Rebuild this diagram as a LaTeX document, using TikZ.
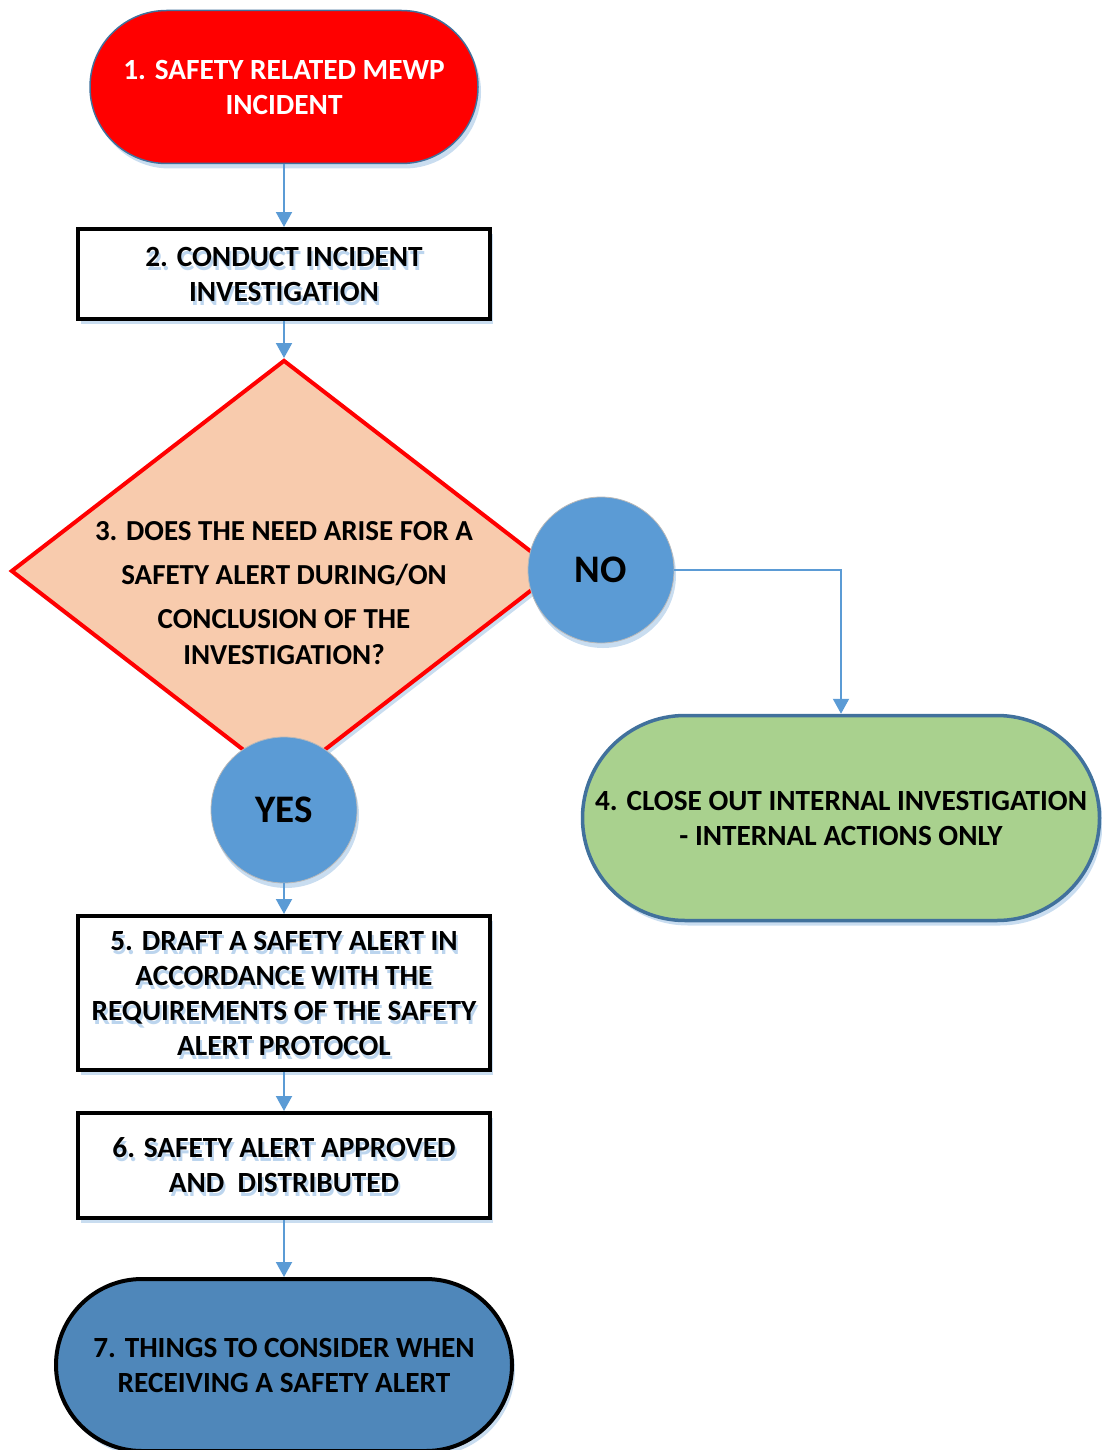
\documentclass[tikz,border=0pt]{standalone}
\usepackage{fontspec}
\setmainfont{Carlito}
\usetikzlibrary{shapes.geometric,shapes.misc,arrows.meta,shadows}
\definecolor{arrowblue}{HTML}{5B9BD5}
\definecolor{edgeblue}{HTML}{41719C}
\definecolor{peach}{HTML}{F8CBAD}
\definecolor{leaf}{HTML}{A9D18E}
\definecolor{steel}{HTML}{4F87BA}
\definecolor{shade}{HTML}{C9DDF0}
\definecolor{ghostblue}{HTML}{BCD5EE}
\newcommand\mainfs{\bfseries\fontsize{29.3}{35}\selectfont}
\tikzset{
  base/.style={font=\mainfs, align=center, inner sep=0pt,
    drop shadow={shadow xshift=3pt, shadow yshift=-5pt, fill=shade, opacity=1}},
  stadium/.style={base, rounded rectangle, rounded rectangle arc length=180},
  procbox/.style={base, rectangle, draw=black, line width=4pt, fill=white, minimum width=412pt,
    path picture={\node[font=\mainfs, align=center, inner sep=0pt, text=ghostblue]
      at ([xshift=2pt,yshift=-4pt]path picture bounding box.center) {#1};}},
  answer/.style={circle, fill=arrowblue, draw=gray!55, line width=0.8pt, minimum size=146pt, inner sep=0pt,
    font=\bfseries\fontsize{39}{42}\selectfont,
    drop shadow={shadow xshift=2pt, shadow yshift=-5pt, fill=shade, opacity=1}},
  flow/.style={draw=arrowblue, line width=2pt, -{Triangle[width=16pt,length=15pt]}},
}
\newcommand\txttwo{2. CONDUCT INCIDENT\\ INVESTIGATION}
\newcommand\txtfive{5. DRAFT A SAFETY ALERT IN\\ ACCORDANCE WITH THE\\ REQUIREMENTS OF THE SAFETY\\ ALERT PROTOCOL}
\newcommand\txtsix{6. SAFETY ALERT APPROVED\\ AND\ \ DISTRIBUTED}
\begin{document}
\begin{tikzpicture}[x=1pt,y=-1pt]
\useasboundingbox (0,0) rectangle (1102,1450);

% 3. decision diamond
\node[diamond, draw=red, line width=4pt, fill=peach, minimum width=546pt, minimum height=422pt, inner sep=0pt,
  drop shadow={shadow xshift=3pt, shadow yshift=-5pt, fill=shade, opacity=1}] (d3) at (284,571) {};
\node[font=\bfseries\fontsize{29}{44}\selectfont, align=center, inner sep=0pt] (t3) at (284,593)
  {3. DOES THE NEED ARISE FOR A\\ SAFETY ALERT DURING/ON\\ CONCLUSION OF THE\\[-8pt] INVESTIGATION?};

% 1
\node[stadium, fill=red, draw=edgeblue, line width=1.5pt, text=white, minimum width=388pt, minimum height=153pt] (n1) at (284,87)
  {1. SAFETY RELATED MEWP\\ INCIDENT};
% 2
\node[procbox=\txttwo, minimum height=90pt] (n2) at (284,274) {\txttwo};
% answers
\node[answer] (no) at (601,570) {NO};
\node[answer] (yes) at (284,810) {YES};
% 4
\node[stadium, fill=leaf, draw=edgeblue, line width=3.5pt, minimum width=517pt, minimum height=205pt] (n4) at (841,818)
  {4. CLOSE OUT INTERNAL INVESTIGATION\\ - INTERNAL ACTIONS ONLY};
% 5
\node[procbox=\txtfive, minimum height=154pt] (n5) at (284,993) {\txtfive};
% 6
\node[procbox=\txtsix, minimum height=105pt] (n6) at (284,1165.5) {\txtsix};
% 7
\node[stadium, fill=steel, draw=black, line width=4pt, minimum width=456pt, minimum height=172pt] (n7) at (284,1365)
  {7. THINGS TO CONSIDER WHEN\\ RECEIVING A SAFETY ALERT};

% connectors
\draw[flow] (n1.south) -- (n2.north);
\draw[flow] (n2.south) -- (d3.north);
\draw[flow] (no.east) -| (n4.north);
\draw[flow] (yes.south) -- (n5.north);
\draw[flow] (n5.south) -- (n6.north);
\draw[flow] (n6.south) -- (n7.north);
\end{tikzpicture}
\end{document}
